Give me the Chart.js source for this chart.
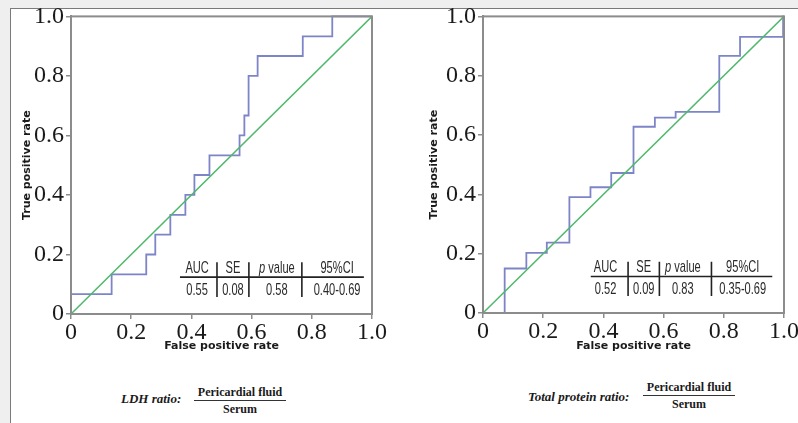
<!DOCTYPE html>
<html>
<head>
<meta charset="utf-8">
<script src="https://cdn.jsdelivr.net/npm/chart.js@4.4.1/dist/chart.umd.min.js"></script>
<style>
    body { margin: 0; background: #efefef; width: 798px; height: 423px; overflow: hidden; position: relative; }
    #painel { position: absolute; left: 10px; top: 8px; width: 800px; height: 430px; background: #fff; border: 1px solid #7a7a7a; }
    canvas { position: absolute; top: 0; }
    #chartLdh { left: 0; }
    #chartProteina { left: 400px; }
    .razao { position: absolute; font-family: "Liberation Serif", "Times New Roman", serif; font-weight: bold; color: #1a1a1a; }
    .nome { font-style: italic; font-size: 13px; }
    .fracao { font-size: 12px; text-align: center; line-height: 14px; }
    .fracao .num { border-bottom: 1.5px solid #333; padding: 0 0 1px 0; }
    .fracao .den { padding-top: 1px; }
</style>
</head>
<body>
<div id="painel"></div>
<canvas id="chartLdh" width="400" height="365"></canvas>
<canvas id="chartProteina" width="398" height="365"></canvas>

<div class="razao nome" style="left:121px; top:391px;">LDH ratio:</div>
<div class="razao fracao" style="left:194px; top:385px; width:92px;">
    <div class="num">Pericardial fluid</div>
    <div class="den">Serum</div>
</div>

<div class="razao nome" style="left:528px; top:389px;">Total protein ratio:</div>
<div class="razao fracao" style="left:643px; top:380px; width:92px;">
    <div class="num">Pericardial fluid</div>
    <div class="den">Serum</div>
</div>

<script>
// valores (false positive rate / true positive rate)
var fprLdh = [0, 0.135, 0.25, 0.28, 0.33, 0.38, 0.41, 0.46, 0.56, 0.576, 0.59, 0.62, 0.77, 0.868, 1.0]
var tprLdh = [0, 0.067, 0.133, 0.2, 0.267, 0.333, 0.4, 0.467, 0.533, 0.6, 0.667, 0.8, 0.867, 0.933, 1.0]

var fprProteina = [0, 0.072, 0.144, 0.212, 0.287, 0.357, 0.426, 0.5, 0.571, 0.64, 0.785, 0.854, 0.997, 1.0]
var tprProteina = [0, 0, 0.15, 0.203, 0.237, 0.391, 0.424, 0.472, 0.628, 0.659, 0.678, 0.867, 0.931, 1.0]

var diagonal = [0, 1]

var tickLabels = ['0', '0.2', '0.4', '0.6', '0.8', '1.0']

var cabecalhoTabela = ['AUC', 'SE', 'p value', '95%CI']
var estatLdh = ['0.55', '0.08', '0.58', '0.40-0.69']
var estatProteina = ['0.52', '0.09', '0.83', '0.35-0.69']

var corCurva = '#7d85c8'
var corDiagonal = '#4fb86c'
var corEixo = '#8c8c8c'
var fonteTick = { family: '"Liberation Serif", "Times New Roman", serif', size: 24 }
var fonteTitulo = { family: '"DejaVu Sans", Verdana, sans-serif', weight: 'bold', size: 11 }

function montarPontos(xs, ys) {
    var pontos = []
    for (let i = 0; i < xs.length; i++) {
        pontos.push({ x: xs[i], y: ys[i] })
    }
    return pontos
}

// moldura cinza em volta da area do grafico
var pluginMoldura = {
    id: 'moldura',
    afterDraw: function (chart) {
        var ctx = chart.ctx
        var a = chart.chartArea
        ctx.save()
        ctx.strokeStyle = corEixo
        ctx.lineWidth = 2
        ctx.strokeRect(a.left, a.top, a.right - a.left, a.bottom - a.top)
        ctx.restore()
    }
}

// tabela AUC / SE / p / IC dentro do grafico
var pluginTabela = {
    id: 'tabela',
    afterDraw: function (chart, args, opts) {
        var ctx = chart.ctx
        var sx = chart.scales.x
        var sy = chart.scales.y
        var px = function (v) { return sx.getPixelForValue(v) }
        var py = function (v) { return sy.getPixelForValue(v) }
        var fonte = '15px "Liberation Sans", Arial, sans-serif'

        ctx.save()
        ctx.strokeStyle = '#222'
        ctx.lineWidth = 1.6
        ctx.beginPath()
        ctx.moveTo(px(opts.linha[0]), py(opts.yLinha))
        ctx.lineTo(px(opts.linha[1]), py(opts.yLinha))
        for (let i = 0; i < opts.separadores.length; i++) {
            ctx.moveTo(px(opts.separadores[i]), py(opts.ySep[0]))
            ctx.lineTo(px(opts.separadores[i]), py(opts.ySep[1]))
        }
        ctx.stroke()

        ctx.fillStyle = '#2a2a2a'
        ctx.textBaseline = 'middle'
        ctx.textAlign = 'center'
        var escala = 0.74
        for (let i = 0; i < opts.colunas.length; i++) {
            var cx = px(opts.colunas[i])
            var linhas = [[cabecalhoTabela[i], py(opts.yCabecalho)], [opts.valores[i], py(opts.yValores)]]
            for (let j = 0; j < linhas.length; j++) {
                ctx.save()
                ctx.translate(cx, linhas[j][1])
                ctx.scale(escala, 1.08)
                if (linhas[j][0] === 'p value') {
                    ctx.font = fonte
                    var wv = ctx.measureText(' value').width
                    ctx.font = 'italic ' + fonte
                    var wp = ctx.measureText('p').width
                    var ini = -(wp + wv) / 2
                    ctx.textAlign = 'left'
                    ctx.fillText('p', ini, 0)
                    ctx.font = fonte
                    ctx.fillText(' value', ini + wp, 0)
                } else {
                    ctx.font = fonte
                    ctx.fillText(linhas[j][0], 0, 0)
                }
                ctx.restore()
            }
        }
        ctx.restore()
    }
}

function criarRoc(idCanvas, fpr, tpr, valores, area, tabela) {
    var canvas = document.getElementById(idCanvas)
    return new Chart(canvas, {
        type: 'line',
        data: {
            datasets: [{
                data: montarPontos(fpr, tpr),
                borderColor: corCurva,
                borderWidth: 1.8,
                stepped: 'after',
                pointRadius: 0,
                clip: 3,
                order: 2
            }, {
                data: montarPontos(diagonal, diagonal),
                borderColor: corDiagonal,
                borderWidth: 1.5,
                pointRadius: 0,
                order: 1
            }]
        },
        options: {
            responsive: false,
            animation: false,
            events: [],
            layout: { padding: { top: area.top, right: area.right, left: 0, bottom: 0 } },
            plugins: {
                legend: { display: false },
                tooltip: { enabled: false },
                tabela: {
                    valores: valores,
                    colunas: tabela.colunas,
                    separadores: tabela.separadores,
                    linha: tabela.linha,
                    yLinha: tabela.yLinha,
                    yCabecalho: tabela.yCabecalho,
                    yValores: tabela.yValores,
                    ySep: tabela.ySep
                }
            },
            scales: {
                x: {
                    type: 'linear',
                    min: 0,
                    max: 1,
                    afterFit: function (scale) { scale.height = area.baixo },
                    ticks: {
                        stepSize: 0.2,
                        padding: -1,
                        color: '#1a1a1a',
                        font: fonteTick,
                        callback: function (value, index) { return tickLabels[index] }
                    },
                    grid: { drawOnChartArea: false, drawTicks: true, tickLength: 5, color: corEixo, lineWidth: 1.5 },
                    border: { color: corEixo, width: 2 },
                    title: {
                        display: true,
                        text: 'False positive rate',
                        color: '#1a1a1a',
                        font: fonteTitulo,
                        padding: { top: 0, bottom: 12 }
                    }
                },
                y: {
                    type: 'linear',
                    min: 0,
                    max: 1,
                    afterFit: function (scale) { scale.width = area.esquerda },
                    ticks: {
                        stepSize: 0.2,
                        padding: 2,
                        color: '#1a1a1a',
                        font: fonteTick,
                        callback: function (value, index) { return tickLabels[index] }
                    },
                    grid: { drawOnChartArea: false, drawTicks: true, tickLength: 5, color: corEixo, lineWidth: 1.5 },
                    border: { color: corEixo, width: 2 },
                    title: {
                        display: true,
                        text: 'True positive rate',
                        color: '#1a1a1a',
                        font: fonteTitulo,
                        padding: { top: area.tituloY, bottom: 0 }
                    }
                }
            }
        },
        plugins: [pluginMoldura, pluginTabela]
    })
}

var graficoLdh = criarRoc('chartLdh', fprLdh, tprLdh, estatLdh,
    { top: 15, right: 28, esquerda: 71, baixo: 51, tituloY: 21 },
    {
        colunas: [0.419, 0.538, 0.684, 0.884],
        separadores: [0.485, 0.591, 0.767],
        linha: [0.362, 0.973],
        yLinha: 0.124,
        yCabecalho: 0.154,
        yValores: 0.08,
        ySep: [0.174, 0.057]
    })

var graficoProteina = criarRoc('chartProteina', fprProteina, tprProteina, estatProteina,
    { top: 13, right: 8, esquerda: 83, baixo: 52, tituloY: 28 },
    {
        colunas: [0.407, 0.534, 0.664, 0.863],
        separadores: [0.482, 0.586, 0.759],
        linha: [0.358, 0.961],
        yLinha: 0.123,
        yCabecalho: 0.153,
        yValores: 0.08,
        ySep: [0.173, 0.057]
    })
</script>
</body>
</html>
